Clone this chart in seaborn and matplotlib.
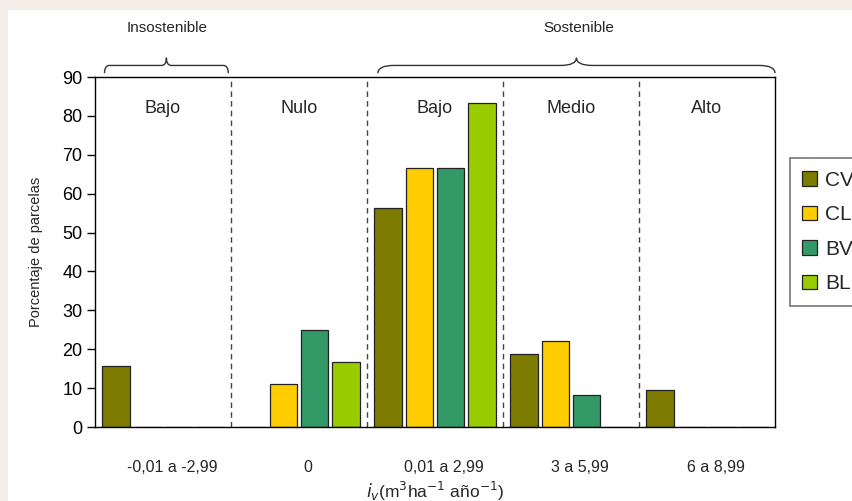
import numpy as np
import pandas as pd
import seaborn as sns
import matplotlib.pyplot as plt
from matplotlib.patches import Rectangle, Patch
from matplotlib.path import Path
from matplotlib.patches import PathPatch
import matplotlib.transforms as mtransforms


categorias = ["-0,01 a -2,99", "0", "0,01 a 2,99", "3 a 5,99", "6 a 8,99"]
zonas = ["Bajo", "Nulo", "Bajo", "Medio", "Alto"]
series = ["CV", "CL", "BV", "BL"]
cv = [15.6, 0, 56.3, 18.8, 9.4]
cl = [0, 11.1, 66.7, 22.2, 0]
bv = [0, 25.0, 66.7, 8.3, 0]
bl = [0, 16.7, 83.3, 0, 0]
colores = ["#7d7b00", "#ffcc00", "#339966", "#99cc00"]


def brace(ax, x0, x1, y, h, **kw):
    "draws a curly brace between x0 and x1 (data), y in axes fraction"
    trans = mtransforms.blended_transform_factory(ax.transData, ax.transAxes)
    xm = (x0 + x1) / 2
    d = (x1 - x0) * 0.04
    verts = [(x0, y - h), (x0, y), (x0 + d, y),
             (xm - d, y), (xm, y), (xm, y + h),
             (xm, y), (xm + d, y),
             (x1 - d, y), (x1, y), (x1, y - h)]
    codes = [Path.MOVETO, Path.CURVE3, Path.CURVE3,
             Path.LINETO, Path.CURVE3, Path.CURVE3,
             Path.CURVE3, Path.CURVE3,
             Path.LINETO, Path.CURVE3, Path.CURVE3]
    p = PathPatch(Path(verts, codes), transform=trans, fill=False,
                  clip_on=False, **kw)
    ax.add_patch(p)


df = pd.DataFrame({
    'rango': categorias * 4,
    'serie': np.repeat(series, len(categorias)),
    'pct': cv + cl + bv + bl,
})

sns.set_style("white")
plt.rcParams['font.family'] = ['Liberation Sans', 'DejaVu Sans']

fig = plt.figure(figsize=(8.53, 5.01), dpi=100, facecolor='#f4ede8')
fig.patches.append(Rectangle((8 / 853, 0), 1, (501 - 10) / 501,
                             transform=fig.transFigure, facecolor='white',
                             edgecolor='none', zorder=-10))
ax = fig.add_axes([95 / 853, 74 / 501, 680 / 853, 350 / 501])
ax.set_facecolor('white')

sns.barplot(data=df, x='rango', y='pct', hue='serie', order=categorias,
            hue_order=series, palette=colores, width=0.92, gap=0.12,
            edgecolor='#222222', linewidth=0.9, saturation=1, ax=ax)

ax.set_xlim(-0.5, 4.5)
ax.set_ylim(0, 90)
ax.set_yticks(range(0, 91, 10))
ax.tick_params(axis='y', labelsize=13, length=6, width=1, direction='out',
               left=True, pad=3, colors='black')
ax.tick_params(axis='x', labelsize=11.5, length=0, pad=24)
offset = mtransforms.ScaledTranslation(0.09, 0, fig.dpi_scale_trans)
for lab in ax.get_xticklabels():
    lab.set_transform(lab.get_transform() + offset)

for s in ax.spines.values():
    s.set_visible(True)
    s.set_color('black')
    s.set_linewidth(1)

for i in range(len(categorias) - 1):
    ax.axvline(i + 0.5, color='#444444', linestyle=(0, (4, 3)), linewidth=1)

for i, z in enumerate(zonas):
    ax.text(i, 82, z, ha='center', va='center', fontsize=13)

ax.set_ylabel('Porcentaje de parcelas', fontsize=10.5, labelpad=14)
ax.set_xlabel(r'$i_v$(m$^3$ha$^{-1}$ año$^{-1}$)', fontsize=12.5, labelpad=3)

# braces for sostenible / insostenible
brace(ax, -0.43, 0.48, 1.033, 0.022, color='#333333', linewidth=1)
brace(ax, 1.58, 4.5, 1.033, 0.022, color='#333333', linewidth=1)
trans = mtransforms.blended_transform_factory(ax.transData, ax.transAxes)
ax.text(0.03, 1.14, 'Insostenible', transform=trans, ha='center',
        va='center', fontsize=11)
ax.text(3.06, 1.14, 'Sostenible', transform=trans, ha='center',
        va='center', fontsize=11)

handles = [Patch(facecolor=c, edgecolor='#222222', linewidth=0.9)
           for c in colores]
leg = ax.legend(handles, series, loc='center left',
                bbox_to_anchor=(1.022, 0.557), fontsize=15, frameon=True,
                fancybox=False, edgecolor='#555555', handlelength=0.7,
                handleheight=0.7, handletextpad=0.4, labelspacing=0.75,
                borderpad=0.6, borderaxespad=0)
leg.get_frame().set_linewidth(1.2)

fig.savefig('out.png', dpi=100, facecolor=fig.get_facecolor())
